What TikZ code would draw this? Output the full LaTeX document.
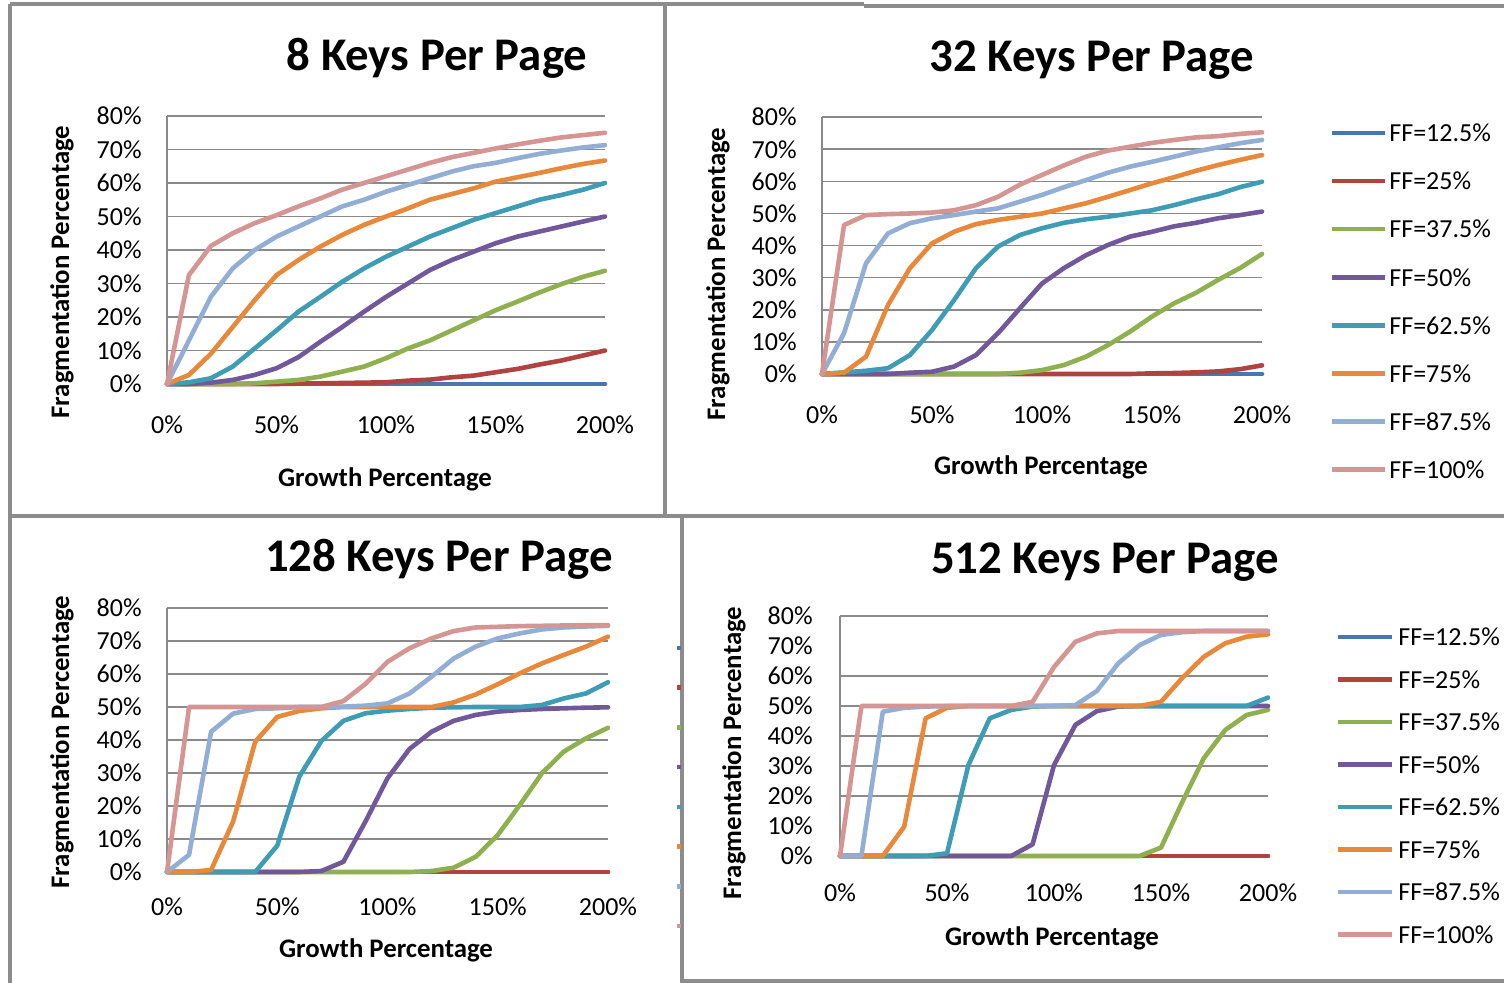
\documentclass[tikz,border=0pt]{standalone}
\usepackage{fontspec}
\setmainfont{Carlito}
\definecolor{sBlue}{HTML}{4A76AE}
\definecolor{sRed}{HTML}{B0433F}
\definecolor{sGreen}{HTML}{8FB04E}
\definecolor{sPurple}{HTML}{71589A}
\definecolor{sTeal}{HTML}{3F9CB5}
\definecolor{sOrange}{HTML}{E8883A}
\definecolor{sLight}{HTML}{93AED4}
\definecolor{sPink}{HTML}{D59592}
\definecolor{gridgray}{HTML}{8A8A8A}
\definecolor{framegray}{HTML}{8C8C8C}
\tikzset{
  gridrule/.style={draw=gridgray, line width=0.8pt},
  frame/.style={draw=framegray, line width=1.6pt},
  ser/.style={line width=2.3pt, line join=round, line cap=round},
  legline/.style={line width=2.3pt},
  ticklab/.style={font=\fontsize{13}{15}\selectfont, inner sep=0pt},
  axtitle/.style={font=\bfseries\fontsize{13.4}{15}\selectfont, inner sep=0pt},
  charttitle/.style={font=\bfseries\fontsize{23.4}{27}\selectfont, inner sep=0pt, anchor=base},
  legtext/.style={font=\fontsize{13}{15}\selectfont, anchor=west, inner sep=0pt},
}
% one data series: 21 values at growth 0,10,...,200
\newcommand{\ffseries}[2]{\draw[ser,#1] (0,0) \foreach \v [count=\i from 0] in {#2} {-- ({\i*10},\v)};}
% gridlines, value axis and its labels
\newcommand{\chartgrid}[7]{%
  \foreach \k in {#7} {\draw[gridrule] ({#2},{#4-\k*#5}) -- ({#3},{#4-\k*#5});}
  \draw[gridrule] ({#2},{#4}) -- ({#2},{#4-8*#5});
  \foreach \k in {0,...,8} {\node[ticklab,anchor=east] (#1y\k) at ({#6},{#4-\k*#5}) {\ifnum\k=0 0\else\k0\fi\%};}
}
% category axis labels
\newcommand{\chartxlabels}[4]{%
  \foreach \g [count=\i] in {0,50,100,150,200} {\node[ticklab] (#1x\i) at ({#2+\g/200*(#3-#2)},{#4}) {\g\%};}
}
\begin{document}
\begin{tikzpicture}[x=0.5pt,y=-0.5pt]
\useasboundingbox[fill=white] (0,0) rectangle (1504,983);

% ---------- frames ----------
\draw[frame] (10,4) -- (864,4);
\draw[frame] (864,6) -- (1504,6);
\draw[frame] (10,4) -- (10,983);
\draw[frame] (665,4) -- (665,516);
\draw[frame] (665,516) -- (1504,516);
\draw[frame] (10,516) -- (682,516);
\draw[frame] (682,516) -- (682,983);
\draw[frame] (682,981) -- (1504,981);

% ---------- 8 keys per page ----------
\node[charttitle] (t1) at (437,71) {8 Keys Per Page};
\chartgrid{a}{167}{605}{384}{33.5}{142}{0,...,8}
\chartxlabels{a}{167}{605}{425}
\node[axtitle,rotate=90] (a-yt) at (62,272) {Fragmentation Percentage};
\node[axtitle,anchor=base] (a-xt) at (385,487) {Growth Percentage};
\begin{scope}[shift={(167,384)},x=1.095pt,y=1.675pt]
\ffseries{sBlue}{0,0,0,0,0,0,0,0,0,0,0,0,0,0,0,0,0,0,0,0,0}
\ffseries{sRed}{0,0,0,0,0,0,0.1,0.2,0.3,0.4,0.5,1,1.3,2,2.5,3.5,4.5,5.8,7,8.5,10}
\ffseries{sGreen}{0,0,0,0,0.2,0.7,1.2,2.2,3.7,5.2,7.7,10.6,13,16,19,22,24.6,27.3,29.8,32,33.8}
\ffseries{sPurple}{0,0,0.4,1.2,2.7,4.7,8,12.6,17,21.6,26,30,34,37,39.5,42,44,45.5,47,48.5,50}
\ffseries{sTeal}{0,0.5,1.7,5.2,10.6,16,21.6,26,30.5,34.5,38,41,44,46.5,49,51,53,55,56.4,58,60}
\ffseries{sOrange}{0,2.7,9,17,25,32.5,37,41,44.5,47.5,50,52.4,55,56.7,58.4,60.4,61.7,63,64.4,65.7,66.7}
\ffseries{sLight}{0,13,26,34.5,40,44,47,50,53,55,57.4,59.4,61.4,63.4,65,66,67.4,68.7,69.7,70.6,71.3}
\ffseries{sPink}{0,32.5,41.2,45,48,50.4,53,55.4,58,60,62,64,66,67.7,69,70.3,71.5,72.6,73.6,74.3,75}
\end{scope}

% ---------- 32 keys per page ----------
\node[charttitle] (t2) at (1092,72) {32 Keys Per Page};
\chartgrid{b}{822}{1262}{374}{32.1}{797}{0,...,8}
\chartxlabels{b}{822}{1262}{415}
\node[axtitle,rotate=90] (b-yt) at (718,274) {Fragmentation Percentage};
\node[axtitle,anchor=base] (b-xt) at (1041,475) {Growth Percentage};
\begin{scope}[shift={(822,374)},x=1.1pt,y=1.605pt]
\ffseries{sBlue}{0,0,0,0,0,0,0,0,0,0,0,0,0,0,0,0,0,0,0,0,0}
\ffseries{sRed}{0,0,0,0,0,0,0,0,0,0,0,0,0,0,0,0.2,0.3,0.5,0.8,1.5,2.7}
\ffseries{sGreen}{0,0,0,0,0,0,0,0,0,0.4,1.2,2.8,5.4,9,13.2,17.9,22,25.3,29.3,33,37.4}
\ffseries{sPurple}{0,0,0,0,0.4,0.7,2.3,5.9,12.7,20.5,28.2,33,37,40.2,42.8,44.3,46,47.1,48.5,49.5,50.6}
\ffseries{sTeal}{0,0.5,1,1.8,5.9,13.7,23,33,39.7,43.3,45.4,47.1,48.2,49,50,51,52.6,54.4,56,58.2,59.9}
\ffseries{sOrange}{0,0.4,5.4,21.5,33,40.7,44.3,46.7,48,49,50,51.6,53.2,55.2,57.3,59.4,61.3,63.3,65.1,66.7,68.2}
\ffseries{sLight}{0,12.7,34.5,43.8,47,48.5,49.5,50.6,51.6,53.7,55.8,58.2,60.4,62.7,64.6,66.1,67.7,69.3,70.6,71.9,72.9}
\ffseries{sPink}{0,46.4,49.5,49.8,50,50.3,51,52.6,55.2,59,62,65,67.7,69.6,70.8,72,72.9,73.7,74.1,74.8,75.3}
\end{scope}
% legend
\foreach \c/\t [count=\i from 0] in {sBlue/12.5,sRed/25,sGreen/37.5,sPurple/50,sTeal/62.5,sOrange/75,sLight/87.5,sPink/100}{
  \coordinate (bl\i a) at (1332,{133+48.1*\i});
  \coordinate (bl\i b) at (1385,{133+48.1*\i});
  \draw[legline,\c] (bl\i a) -- (bl\i b);
  \node[legtext] (bleg\i) at (1389,{133+48.1*\i}) {FF=\t\%};
}

% ---------- 128 keys per page ----------
\node[charttitle] (t3) at (439,572) {128 Keys Per Page};
\chartgrid{c}{167}{608}{872}{33}{142}{0,...,8}
\chartxlabels{c}{167}{608}{907}
\node[axtitle,rotate=90] (c-yt) at (62,742) {Fragmentation Percentage};
\node[axtitle,anchor=base] (c-xt) at (386,957) {Growth Percentage};
\begin{scope}[shift={(167,872)},x=1.1025pt,y=1.65pt]
\ffseries{sBlue}{0,0,0,0,0,0,0,0,0,0,0,0,0,0,0,0,0,0,0,0,0}
\ffseries{sRed}{0,0,0,0,0,0,0,0,0,0,0,0,0,0,0,0,0,0,0,0,0}
\ffseries{sGreen}{0,0,0,0,0,0,0,0,0,0,0,0,0.3,1.3,4.6,11.2,20.3,29.9,36.5,40.5,43.7}
\ffseries{sPurple}{0,0,0,0,0,0,0,0.3,3.1,15.3,28.4,37.3,42.5,45.8,47.6,48.6,49.1,49.4,49.6,49.8,49.9}
\ffseries{sTeal}{0,0,0,0,0,8,28.9,39.7,45.8,48.1,48.9,49.4,49.8,49.9,50,50,50,50.6,52.6,54.1,57.5}
\ffseries{sOrange}{0,0,0.6,15.3,39.5,47,48.8,49.6,50,50,50,50,50,51.4,53.8,56.9,60.2,63.2,65.8,68.3,71.3}
\ffseries{sLight}{0,5.2,42.5,48,49.4,49.6,50,50,50.1,50.4,51.1,54.1,59.2,64.7,68.3,70.8,72.3,73.5,74.1,74.4,74.6}
\ffseries{sPink}{0,50,50,50,50,50,50,50,51.8,57,63.7,67.8,70.8,73,74.1,74.3,74.5,74.6,74.7,74.8,74.8}
\end{scope}
% legend keys showing at the edge of the frame
\foreach \c [count=\i from 0] in {sBlue,sRed,sGreen,sPurple,sTeal,sOrange,sLight,sPink}{
  \coordinate (cl\i a) at (677,{648+39.7*\i});
  \coordinate (cl\i b) at (681,{648+39.7*\i});
  \draw[legline,\c] (cl\i a) -- (cl\i b);
}

% ---------- 512 keys per page ----------
\node[charttitle] (t4) at (1105,574) {512 Keys Per Page};
\chartgrid{d}{840}{1268}{856}{30}{813}{0,2,3,4,5,6,8}
\chartxlabels{d}{840}{1268}{893}
\node[axtitle,rotate=90] (d-yt) at (734,753) {Fragmentation Percentage};
\node[axtitle,anchor=base] (d-xt) at (1052,945) {Growth Percentage};
\begin{scope}[shift={(840,856)},x=1.07pt,y=1.5pt]
\ffseries{sBlue}{0,0,0,0,0,0,0,0,0,0,0,0,0,0,0,0,0,0,0,0,0}
\ffseries{sRed}{0,0,0,0,0,0,0,0,0,0,0,0,0,0,0,0,0,0,0,0,0}
\ffseries{sGreen}{0,0,0,0,0,0,0,0,0,0,0,0,0,0,0,2.8,18.1,32.6,42,47,48.7}
\ffseries{sPurple}{0,0,0,0,0,0,0,0,0,3.9,30.3,43.7,48.3,49.8,50,50,50,50,50,50,50}
\ffseries{sTeal}{0,0,0,0,0,0.9,30.3,45.9,48.7,49.8,50,50,50,50,50,50,50,50,50,50,52.8}
\ffseries{sOrange}{0,0,0,9.8,45.9,49.4,50,50,50,50,50,50,50,50,50,51.4,59.4,66.4,70.9,73.1,73.9}
\ffseries{sLight}{0,0,48.1,49.4,49.8,50,50,50,50,50,50,50.3,55,64.2,70.3,73.7,74.6,75,75,75,75}
\ffseries{sPink}{0,50,50,50,50,50,50,50,50,51.4,63,71.4,74.2,75,75,75,75,75,75,75,75}
\end{scope}
% legend
\foreach \c/\t [count=\i from 0] in {sBlue/12.5,sRed/25,sGreen/37.5,sPurple/50,sTeal/62.5,sOrange/75,sLight/87.5,sPink/100}{
  \coordinate (dl\i a) at (1338,{637+42.5*\i});
  \coordinate (dl\i b) at (1392,{637+42.5*\i});
  \draw[legline,\c] (dl\i a) -- (dl\i b);
  \node[legtext] (dleg\i) at (1398,{637+42.5*\i}) {FF=\t\%};
}
\end{tikzpicture}
\end{document}
